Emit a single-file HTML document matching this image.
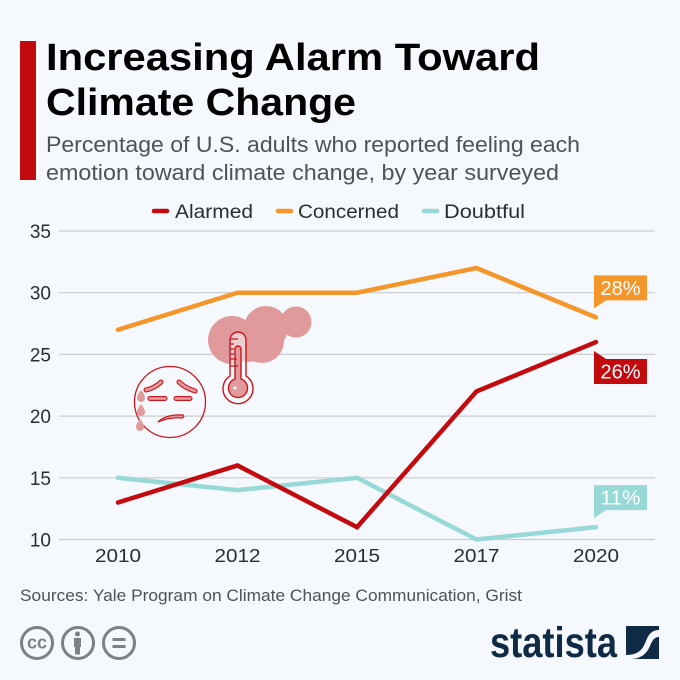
<!DOCTYPE html>
<html lang="en">
<head>
<meta charset="utf-8">
<title>Increasing Alarm Toward Climate Change</title>
<style>
html,body{margin:0;padding:0;background:#f5f8fc}
svg{display:block;font-family:"Liberation Sans",sans-serif}
</style>
</head>
<body>
<svg id="chart" xmlns="http://www.w3.org/2000/svg" width="680" height="680" viewBox="0 0 680 680">
  <rect width="680" height="680" fill="#f5f8fc"/>
  <rect x="20" y="41" width="16" height="139" fill="#c30a0f"/>
  <text x="46" y="70" font-size="38" font-weight="700" fill="#000" textLength="494" lengthAdjust="spacingAndGlyphs">Increasing Alarm Toward</text>
  <text x="46" y="115" font-size="38" font-weight="700" fill="#000" textLength="310" lengthAdjust="spacingAndGlyphs">Climate Change</text>
  <text x="46" y="152" font-size="22.5" fill="#4e5358" textLength="534" lengthAdjust="spacingAndGlyphs">Percentage of U.S. adults who reported feeling each</text>
  <text x="46" y="180" font-size="22.5" fill="#4e5358" textLength="513" lengthAdjust="spacingAndGlyphs">emotion toward climate change, by year surveyed</text>

  <g>
    <g>
      <line x1="154" y1="211" x2="167" y2="211" stroke="#c30a0f" stroke-width="4.5" stroke-linecap="round"/>
      <text x="175" y="218" font-size="19.5" fill="#2a2e32" textLength="78" lengthAdjust="spacingAndGlyphs">Alarmed</text>
    </g>
    <g>
      <line x1="278" y1="211" x2="291" y2="211" stroke="#f5962a" stroke-width="4.5" stroke-linecap="round"/>
      <text x="298" y="218" font-size="19.5" fill="#2a2e32" textLength="101" lengthAdjust="spacingAndGlyphs">Concerned</text>
    </g>
    <g>
      <line x1="424" y1="211" x2="437" y2="211" stroke="#97d9d6" stroke-width="4.5" stroke-linecap="round"/>
      <text x="444" y="218" font-size="19.5" fill="#2a2e32" textLength="81" lengthAdjust="spacingAndGlyphs">Doubtful</text>
    </g>
  </g>

  <g id="grid"></g>
  <g id="yticks"></g>
  <g id="xticks"></g>

  <g>
    <g fill="#e09a9c">
      <circle cx="232" cy="340" r="24"/>
      <circle cx="266" cy="328" r="22"/>
      <circle cx="262" cy="341" r="22"/>
      <circle cx="248" cy="342" r="20"/>
      <circle cx="296" cy="322" r="15.5"/>
      <circle cx="284" cy="325" r="9"/>
    </g>
    <g stroke="#c8161c" fill="none">
      <path d="M230 376V340a8 8 0 0 1 16 0V376a15 15 0 1 1-16 0Z" fill="#f5f8fc" fill-opacity=".55" stroke-width="1.4"/>
      <path d="M235 379V349a3 3 0 0 1 6 0V379a9.5 9.5 0 1 1-6 0Z" fill="#e09a9c" stroke-width="1.4"/>
      <path d="M230 339h8M230 344h4M230 349h4M230 354h4M230 359h7M230 366h8" stroke-width="1.2"/>
      <circle cx="235" cy="388" r="1.5" fill="#fff" stroke="none"/>
    </g>
    <g>
      <circle cx="170" cy="402" r="35.5" fill="none" stroke="#c8161c" stroke-width="1.3"/>
      <g fill="none" stroke-linecap="round">
        <g stroke="#c8161c" stroke-width="5">
          <path d="M146 390Q155 388 161 382"/>
          <path d="M179 382Q185 388 195 391"/>
          <path d="M150 398.500H165"/>
          <path d="M176 398.500H190"/>
        </g>
        <g stroke="#e09a9c" stroke-width="2.8">
          <path d="M146 390Q155 388 161 382"/>
          <path d="M179 382Q185 388 195 391"/>
          <path d="M150 398.500H165"/>
          <path d="M176 398.500H190"/>
        </g>
      </g>
      <path d="M158 422Q166 414 183 415Q185 417 182 418Q170 417 158 422Z" fill="#e09a9c" stroke="#c8161c" stroke-width="1.2" stroke-linejoin="round"/>
      <g fill="#e09a9c">
        <path d="M141 390q4 5 4 8a4 4 0 0 1-8 0q0-3 4-8Z"/>
        <path d="M141 404q4 5 4 8a4 4 0 0 1-8 0q0-3 4-8Z"/>
        <path d="M140 419q4 5 4 8a4 4 0 0 1-8 0q0-3 4-8Z"/>
      </g>
    </g>
  </g>

  <g id="series"></g>

  <g id="callouts"></g>

  <text x="20" y="601" font-size="16.5" fill="#4e5358" textLength="502" lengthAdjust="spacingAndGlyphs">Sources: Yale Program on Climate Change Communication, Grist</text>

  <g>
    <g>
      <circle cx="37" cy="643" r="15.5" fill="none" stroke="#7a8284" stroke-width="3"/>
      <text x="37" y="648.5" font-size="18" font-weight="700" fill="#7a8284" text-anchor="middle" textLength="20" lengthAdjust="spacingAndGlyphs">cc</text>
    </g>
    <g fill="#7a8284">
      <circle cx="78" cy="643" r="15.5" fill="none" stroke="#7a8284" stroke-width="3"/>
      <circle cx="77.5" cy="634" r="2.5"/>
      <path d="M74 638h7v9h-1v7.500h-5v-7.500h-1Z"/>
    </g>
    <g fill="#7a8284">
      <circle cx="119" cy="643" r="15.5" fill="none" stroke="#7a8284" stroke-width="3"/>
      <rect x="112.5" y="638" width="13" height="3"/>
      <rect x="112.5" y="645" width="13" height="3"/>
    </g>
  </g>

  <g>
    <text x="490" y="657" font-size="43" font-weight="700" fill="#0f2a44" textLength="127" lengthAdjust="spacingAndGlyphs">statista</text>
    <rect x="626" y="626" width="33" height="33" fill="#0f2a44"/>
    <path d="M626 655C640 655 643 648 646 641C649 633 653 630 659 630V637C654 637 652 641 650 646C646 655 640 659 630 659H626Z" fill="#f5f8fc"/>
  </g>
</svg>
<script>
const categories = ["2010", "2012", "2015", "2017", "2020"];
const alarmedValues = [13, 16, 11, 22, 26];
const concernedValues = [27, 30, 30, 32, 28];
const doubtfulValues = [15, 14, 15, 10, 11];
const yTickValues = [10, 15, 20, 25, 30, 35];

const NS = "http://www.w3.org/2000/svg";
const plot = { left: 59, right: 655, top: 231, bottom: 539.5, yMin: 10, yMax: 35, firstX: 118, lastX: 596 };
function xScale(i) {
  return plot.firstX + i * (plot.lastX - plot.firstX) / (categories.length - 1);
}
function yScale(v) {
  return plot.bottom - (v - plot.yMin) * (plot.bottom - plot.top) / (plot.yMax - plot.yMin);
}
function make(tag, attrs, parent) {
  const el = document.createElementNS(NS, tag);
  for (const k in attrs) el.setAttribute(k, attrs[k]);
  parent.appendChild(el);
  return el;
}

const gridG = document.getElementById("grid");
const yG = document.getElementById("yticks");
yTickValues.forEach(function (v) {
  const line = make("line", { x1: plot.left, x2: plot.right, y1: yScale(v), y2: yScale(v), stroke: "#c9cdd0", "stroke-width": 1.2 }, gridG);
  
  
  const t = make("text", { x: 51, y: yScale(v) + 7, "font-size": 19, fill: "#2a2e32", "text-anchor": "end" }, yG);
  t.textContent = String(v);
  
  
});

const xG = document.getElementById("xticks");
categories.forEach(function (c, i) {
  const t = make("text", { x: xScale(i), y: 562, "font-size": 18.5, fill: "#2a2e32", "text-anchor": "middle", textLength: 46, lengthAdjust: "spacingAndGlyphs" }, xG);
  t.textContent = c;
  
  
});

const seriesG = document.getElementById("series");
function drawLine(values, color) {
  const pts = values.map(function (v, i) { return xScale(i) + "," + yScale(v); }).join(" ");
  return make("polyline", { points: pts, fill: "none", stroke: color, "stroke-width": 4.5, "stroke-linejoin": "miter", "stroke-linecap": "round" }, seriesG);
}
const doubtfulLine = drawLine(doubtfulValues, "#97d9d6");


const concernedLine = drawLine(concernedValues, "#f5962a");


const alarmedLine = drawLine(alarmedValues, "#c30a0f");



const callG = document.getElementById("callouts");
function drawCallout(values, color, below) {
  const v = values[values.length - 1];
  const py = yScale(v);
  const g = make("g", {}, callG);
  const x0 = 594, x1 = 647;
  let top, d;
  if (below) {
    top = py + 17;
    d = "M" + x0 + " " + (top - 8) + "L" + (x0 + 12) + " " + top + "H" + x1 + "V" + (top + 25) + "H" + x0 + "Z";
  } else {
    top = py - 42;
    d = "M" + x0 + " " + top + "H" + x1 + "V" + (top + 25) + "H" + (x0 + 12) + "L" + x0 + " " + (top + 33) + "Z";
  }
  make("path", { d: d, fill: color }, g);
  const t = make("text", { x: (x0 + x1) / 2, y: top + 19.5, "font-size": 20.5, fill: "#fff", "text-anchor": "middle", textLength: 40, lengthAdjust: "spacingAndGlyphs" }, g);
  t.textContent = v + "%";
  return g;
}
const concernedCallout = drawCallout(concernedValues, "#f5962a", false);


const alarmedCallout = drawCallout(alarmedValues, "#c30a0f", true);


const doubtfulCallout = drawCallout(doubtfulValues, "#97d9d6", false);


</script>
</body>
</html>
